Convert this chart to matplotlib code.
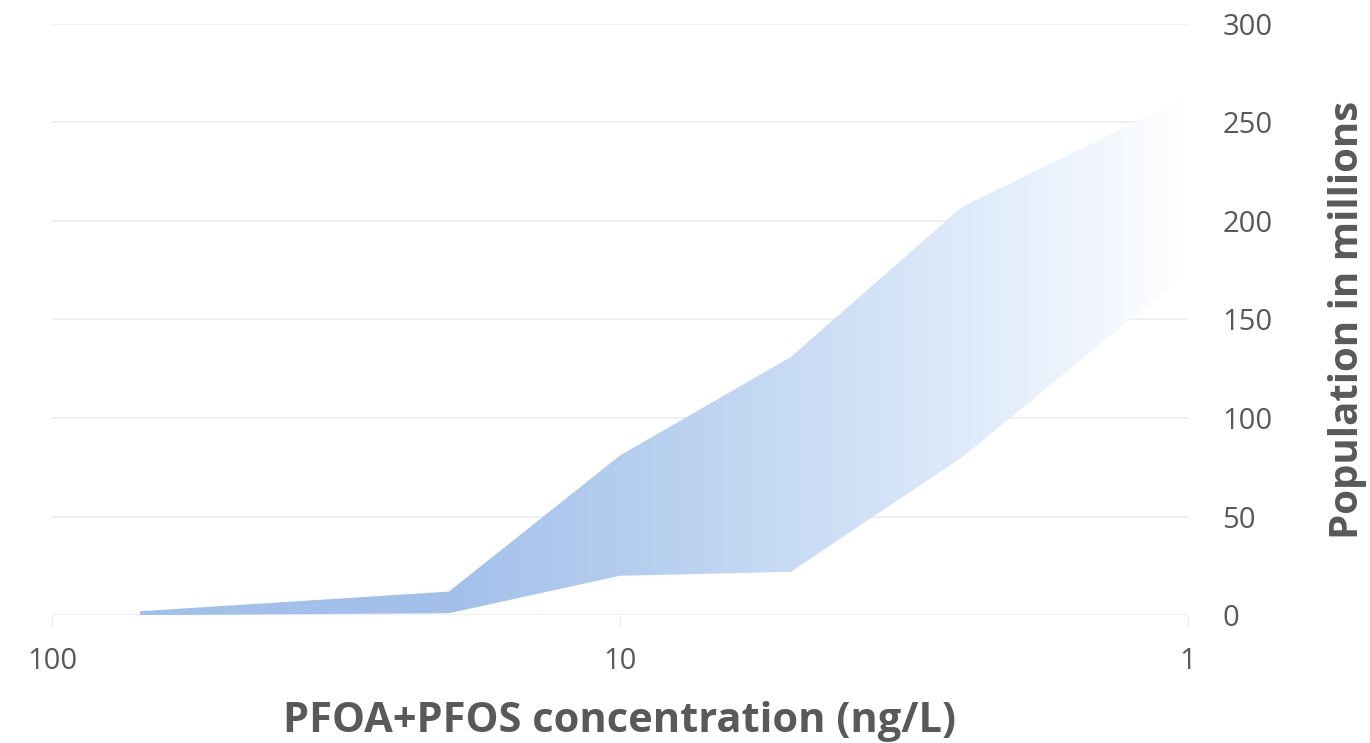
import numpy as np
import matplotlib.pyplot as plt
from matplotlib.colors import LinearSegmentedColormap

# data
conc = [70, 20, 10, 5, 2.5, 1]          # ng/L
upper = [2, 12, 81, 131, 207, 263]      # millions
lower = [0, 1, 20, 22, 80, 174]
x_ticks = [100, 10, 1]
x_tick_labels = ["100", "10", "1"]
y_ticks = [0, 50, 100, 150, 200, 250, 300]

plt.rcParams['font.family'] = ['Open Sans', 'DejaVu Sans']
txt = '#595959'

fig = plt.figure(figsize=(13.7, 7.43), dpi=100)
ax = fig.add_axes([0.038, 0.172, 0.829, 0.796])

ax.set_xscale('log')
ax.set_xlim(100, 1)
ax.set_ylim(0, 300)

# band, filled with a horizontal gradient clipped to its shape
band = ax.fill_between(conc, lower, upper, color='none', lw=0)
cmap = LinearSegmentedColormap.from_list('fade', [
    (0.0, '#a3c0e9'), (0.35, '#a2c0ea'), (0.55, '#bad2f0'),
    (0.70, '#cfe0f6'), (0.83, '#e2edfb'), (0.95, '#f6f9fe'), (1.0, '#ffffff')])
grad = np.linspace(0, 1, 512).reshape(1, -1)
img = ax.imshow(grad, cmap=cmap, aspect='auto', extent=[0, 1, 0, 1],
                transform=ax.transAxes, zorder=2)
img.set_clip_path(band.get_paths()[0], transform=ax.transData)

ax.set_yticks(y_ticks)
ax.set_xticks(x_ticks)
ax.set_xticklabels(x_tick_labels)
ax.minorticks_off()
ax.grid(axis='y', color='#eeeeee', lw=1.2, zorder=0)
ax.set_axisbelow(True)

for s in ax.spines.values():
    s.set_visible(False)

ax.yaxis.tick_right()
ax.yaxis.set_label_position('right')
ax.tick_params(axis='y', length=0, pad=25, labelsize=21, labelcolor=txt)
ax.tick_params(axis='x', length=8, color='#eeeeee', pad=15, labelsize=21,
               labelcolor=txt)

ax.set_xlabel('PFOA+PFOS concentration (ng/L)', fontsize=30, fontweight='bold',
              color=txt, labelpad=18)
ax.set_ylabel('Population in millions', fontsize=29, fontweight='bold',
              color=txt, labelpad=40)

fig.savefig('out.png', dpi=100, facecolor='white')
